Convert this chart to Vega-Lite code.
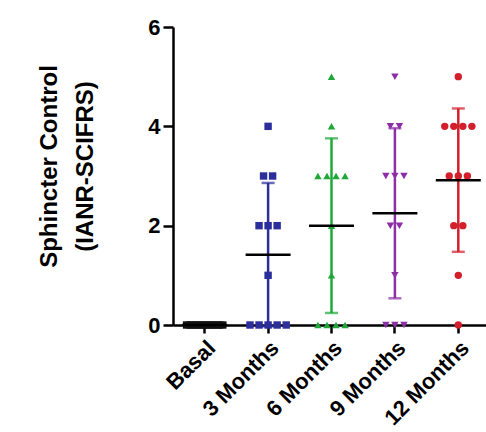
{
  "$schema": "https://vega.github.io/schema/vega-lite/v6.json",
  "width": 317,
  "height": 298,
  "autosize": {"type": "none"},
  "padding": {"left": 173, "top": 27, "right": 0, "bottom": 107},
  "background": "white",
  "config": {
    "view": {"stroke": null},
    "font": "Liberation Sans",
    "axisY": {
      "grid": false,
      "domainColor": "black",
      "domainWidth": 2.5,
      "tickColor": "black",
      "tickWidth": 2.5,
      "tickSize": 10,
      "labelFont": "Liberation Sans",
      "labelFontWeight": "bold",
      "labelFontSize": 22,
      "labelColor": "black",
      "labelPadding": 3,
      "titleFont": "Liberation Sans",
      "titleFontSize": 24,
      "titleFontWeight": "bold",
      "titleColor": "black",
      "titlePadding": 50,
      "titleLineHeight": 36,
      "titleY": 139
    }
  },
  "data": {
    "values": [
      {"time": "Basal", "score": 0}, {"time": "Basal", "score": 0}, {"time": "Basal", "score": 0}, {"time": "Basal", "score": 0},
      {"time": "Basal", "score": 0}, {"time": "Basal", "score": 0}, {"time": "Basal", "score": 0}, {"time": "Basal", "score": 0},
      {"time": "Basal", "score": 0}, {"time": "Basal", "score": 0}, {"time": "Basal", "score": 0}, {"time": "Basal", "score": 0},
      {"time": "3 Months", "score": 4}, {"time": "3 Months", "score": 3}, {"time": "3 Months", "score": 3}, {"time": "3 Months", "score": 2},
      {"time": "3 Months", "score": 2}, {"time": "3 Months", "score": 2}, {"time": "3 Months", "score": 1}, {"time": "3 Months", "score": 0},
      {"time": "3 Months", "score": 0}, {"time": "3 Months", "score": 0}, {"time": "3 Months", "score": 0}, {"time": "3 Months", "score": 0},
      {"time": "6 Months", "score": 5}, {"time": "6 Months", "score": 4}, {"time": "6 Months", "score": 3}, {"time": "6 Months", "score": 3},
      {"time": "6 Months", "score": 3}, {"time": "6 Months", "score": 3}, {"time": "6 Months", "score": 2}, {"time": "6 Months", "score": 1},
      {"time": "6 Months", "score": 0}, {"time": "6 Months", "score": 0}, {"time": "6 Months", "score": 0}, {"time": "6 Months", "score": 0},
      {"time": "9 Months", "score": 5}, {"time": "9 Months", "score": 4}, {"time": "9 Months", "score": 4}, {"time": "9 Months", "score": 3},
      {"time": "9 Months", "score": 3}, {"time": "9 Months", "score": 3}, {"time": "9 Months", "score": 2}, {"time": "9 Months", "score": 2},
      {"time": "9 Months", "score": 1}, {"time": "9 Months", "score": 0}, {"time": "9 Months", "score": 0}, {"time": "9 Months", "score": 0},
      {"time": "12 Months", "score": 5}, {"time": "12 Months", "score": 4}, {"time": "12 Months", "score": 4}, {"time": "12 Months", "score": 4},
      {"time": "12 Months", "score": 4}, {"time": "12 Months", "score": 3}, {"time": "12 Months", "score": 3}, {"time": "12 Months", "score": 3},
      {"time": "12 Months", "score": 2}, {"time": "12 Months", "score": 2}, {"time": "12 Months", "score": 1}, {"time": "12 Months", "score": 0}
    ]
  },
  "transform": [
    {"window": [{"op": "row_number", "as": "r"}], "groupby": ["time", "score"]},
    {"joinaggregate": [{"op": "count", "as": "n"}], "groupby": ["time", "score"]},
    {"calculate": "(datum.r - (datum.n + 1) / 2) * min(1, 4 / max(1, datum.n - 1))", "as": "off"}
  ],
  "encoding": {
    "x": {
      "field": "time",
      "type": "nominal",
      "sort": ["Basal", "3 Months", "6 Months", "9 Months", "12 Months"],
      "scale": {"paddingInner": 0, "paddingOuter": 0},
      "axis": {
        "title": null,
        "labelAngle": -45,
        "labelFont": "Liberation Sans",
        "labelFontWeight": "bold",
        "labelFontSize": 22,
        "labelColor": "black",
        "labelPadding": 4,
        "domainColor": "black",
        "domainWidth": 2.5,
        "tickColor": "black",
        "tickWidth": 2.5,
        "tickSize": 8
      }
    },
    "color": {
      "field": "time",
      "type": "nominal",
      "legend": null,
      "scale": {
        "domain": ["Basal", "3 Months", "6 Months", "9 Months", "12 Months"],
        "range": ["#111111", "#2b2e9b", "#1fa839", "#8d2ea6", "#d21f2b"]
      }
    }
  },
  "layer": [
    {
      "mark": {"type": "point", "filled": true, "opacity": 1, "size": 55},
      "encoding": {
        "xOffset": {"field": "off", "type": "quantitative", "scale": {"domain": [-3.5, 3.5]}},
        "y": {
          "field": "score",
          "type": "quantitative",
          "scale": {"domain": [0, 6], "nice": false},
          "axis": {"title": ["Sphincter Control", "(IANR-SCIFRS)"], "values": [0, 2, 4, 6]}
        },
        "shape": {
          "field": "time",
          "type": "nominal",
          "legend": null,
          "scale": {
            "domain": ["Basal", "3 Months", "6 Months", "9 Months", "12 Months"],
            "range": ["square", "square", "triangle-up", "triangle-down", "circle"]
          }
        }
      }
    },
    {
      "mark": {"type": "errorbar", "extent": "stdev", "ticks": true, "size": 13, "thickness": 2.5},
      "encoding": {
        "y": {
          "field": "score",
          "type": "quantitative",
          "axis": {"title": ["Sphincter Control", "(IANR-SCIFRS)"], "values": [0, 2, 4, 6]}
        }
      }
    },
    {
      "mark": {"type": "tick", "color": "black", "thickness": 2.5, "size": 45},
      "encoding": {
        "y": {
          "field": "score",
          "type": "quantitative",
          "aggregate": "mean",
          "axis": {"title": ["Sphincter Control", "(IANR-SCIFRS)"], "values": [0, 2, 4, 6]}
        },
        "color": {"value": "black"}
      }
    }
  ]
}
